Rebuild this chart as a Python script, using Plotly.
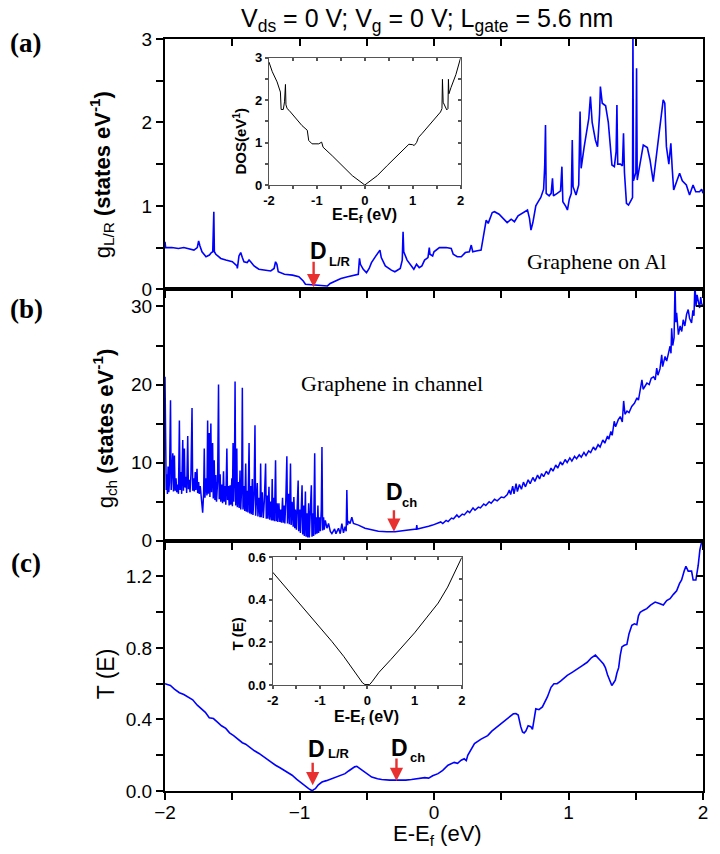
import plotly.graph_objects as go

# ---------------- data ----------------
# panel (a): g_L/R(E)
panel_a_points = [
    (-2.000, 0.57), (-1.995, 0.50), (-1.950, 0.50), (-1.900, 0.49), (-1.860, 0.50), (-1.818, 0.48),
    (-1.785, 0.47), (-1.760, 0.50), (-1.750, 0.58), (-1.740, 0.52), (-1.725, 0.45), (-1.695, 0.39),
    (-1.670, 0.41), (-1.655, 0.44), (-1.645, 0.45), (-1.637, 0.93), (-1.633, 0.45), (-1.622, 0.42),
    (-1.585, 0.37), (-1.548, 0.35), (-1.499, 0.33), (-1.465, 0.28), (-1.462, 0.25), (-1.450, 0.40),
    (-1.437, 0.44), (-1.425, 0.38), (-1.413, 0.33), (-1.389, 0.32), (-1.375, 0.35), (-1.363, 0.33),
    (-1.338, 0.28), (-1.302, 0.24), (-1.254, 0.23), (-1.214, 0.22), (-1.189, 0.25), (-1.178, 0.33),
    (-1.168, 0.30), (-1.158, 0.21), (-1.112, 0.18), (-1.052, 0.17), (-1.005, 0.15), (-0.972, 0.10),
    (-0.956, 0.06), (-0.892, 0.05), (-0.842, 0.04), (-0.792, 0.04), (-0.772, 0.07), (-0.735, 0.10),
    (-0.692, 0.13), (-0.642, 0.15), (-0.592, 0.17), (-0.563, 0.18), (-0.554, 0.37), (-0.547, 0.30),
    (-0.526, 0.24), (-0.502, 0.20), (-0.482, 0.25), (-0.465, 0.32), (-0.432, 0.40), (-0.402, 0.47),
    (-0.392, 0.38), (-0.362, 0.28), (-0.317, 0.23), (-0.291, 0.21), (-0.251, 0.25), (-0.236, 0.35),
    (-0.230, 0.69), (-0.225, 0.45), (-0.200, 0.35), (-0.168, 0.27), (-0.150, 0.24), (-0.130, 0.30),
    (-0.110, 0.26), (-0.090, 0.28), (-0.070, 0.35), (-0.045, 0.38), (-0.035, 0.50), (-0.030, 0.42),
    (-0.010, 0.40), (0.000, 0.45), (0.040, 0.50), (0.055, 0.50), (0.090, 0.50), (0.128, 0.49),
    (0.143, 0.42), (0.173, 0.39), (0.203, 0.39), (0.233, 0.44), (0.263, 0.45), (0.277, 0.53),
    (0.288, 0.45), (0.313, 0.46), (0.350, 0.47), (0.388, 0.83), (0.403, 0.79), (0.433, 0.92),
    (0.450, 0.93), (0.484, 0.90), (0.514, 0.85), (0.544, 0.80), (0.574, 0.84), (0.598, 0.81),
    (0.625, 0.88), (0.671, 0.93), (0.695, 0.95), (0.710, 0.85), (0.721, 0.71), (0.735, 0.80),
    (0.757, 1.00), (0.775, 1.05), (0.794, 1.10), (0.815, 1.20), (0.823, 1.47), (0.829, 1.97),
    (0.834, 1.15), (0.856, 1.12), (0.871, 1.15), (0.881, 1.33), (0.888, 1.12), (0.916, 1.15),
    (0.941, 1.18), (0.951, 1.47), (0.958, 1.05), (0.981, 0.99), (0.992, 0.95), (1.006, 1.08),
    (1.021, 1.15), (1.028, 1.79), (1.034, 1.23), (1.056, 1.13), (1.076, 1.25), (1.086, 2.13),
    (1.094, 1.45), (1.116, 1.70), (1.139, 1.91), (1.151, 2.05), (1.163, 2.31), (1.176, 2.00),
    (1.200, 1.79), (1.216, 1.71), (1.231, 2.10), (1.237, 2.43), (1.251, 2.23), (1.276, 2.20),
    (1.296, 2.00), (1.316, 1.62), (1.323, 1.49), (1.341, 1.47), (1.354, 1.65), (1.360, 2.21),
    (1.366, 1.50), (1.386, 1.50), (1.401, 1.48), (1.409, 1.87), (1.416, 1.40), (1.431, 1.03),
    (1.446, 1.01), (1.466, 1.07), (1.476, 1.10), (1.479, 3.10), (1.483, 1.30), (1.501, 1.40),
    (1.506, 2.65), (1.511, 1.31), (1.536, 1.55), (1.556, 1.73), (1.586, 1.70), (1.606, 1.55),
    (1.630, 1.29), (1.646, 1.50), (1.679, 1.91), (1.691, 2.10), (1.704, 2.27), (1.716, 2.23),
    (1.728, 1.71), (1.746, 1.50), (1.761, 1.75), (1.771, 1.45), (1.782, 1.19), (1.806, 1.30),
    (1.826, 1.39), (1.846, 1.30), (1.876, 1.25), (1.900, 1.13), (1.926, 1.25), (1.946, 1.17),
    (1.974, 1.17), (1.990, 1.20), (2.000, 1.15),
]

# panel (b): g_ch(E)
panel_b_points = [
    (-2.000, 21.0), (-1.994, 9.0), (-1.991, 6.5), (-1.987, 8.5), (-1.982, 6.0), (-1.977, 9.5),
    (-1.972, 6.2), (-1.967, 7.5), (-1.959, 18.0), (-1.954, 6.5), (-1.950, 8.0), (-1.942, 11.2),
    (-1.937, 6.3), (-1.930, 10.9), (-1.925, 6.4), (-1.918, 8.0), (-1.913, 6.2), (-1.905, 7.2),
    (-1.900, 6.0), (-1.893, 15.4), (-1.888, 6.5), (-1.881, 8.8), (-1.876, 6.0), (-1.868, 12.9),
    (-1.863, 6.4), (-1.856, 11.8), (-1.851, 6.8), (-1.844, 8.2), (-1.839, 6.1), (-1.831, 13.4),
    (-1.826, 6.6), (-1.819, 7.8), (-1.814, 6.2), (-1.807, 8.5), (-1.799, 17.0), (-1.794, 6.4),
    (-1.787, 8.0), (-1.782, 6.3), (-1.775, 8.8), (-1.770, 6.5), (-1.762, 9.2), (-1.757, 6.1),
    (-1.750, 7.5), (-1.745, 6.0), (-1.738, 7.0), (-1.730, 5.6), (-1.720, 3.6), (-1.713, 6.0),
    (-1.708, 11.8), (-1.703, 5.5), (-1.696, 8.0), (-1.688, 5.8), (-1.683, 15.4), (-1.678, 6.0),
    (-1.671, 13.8), (-1.666, 5.6), (-1.659, 15.0), (-1.654, 6.2), (-1.646, 12.5), (-1.641, 5.4),
    (-1.634, 10.3), (-1.629, 5.2), (-1.622, 8.4), (-1.617, 5.0), (-1.609, 7.5), (-1.602, 20.0),
    (-1.597, 5.3), (-1.590, 8.5), (-1.585, 5.0), (-1.577, 7.2), (-1.572, 4.8), (-1.565, 8.9),
    (-1.560, 5.0), (-1.553, 7.0), (-1.548, 4.6), (-1.540, 11.8), (-1.535, 5.2), (-1.528, 7.0),
    (-1.523, 4.5), (-1.516, 7.1), (-1.511, 4.6), (-1.503, 8.0), (-1.499, 4.4), (-1.494, 12.5),
    (-1.489, 5.0), (-1.484, 8.0), (-1.479, 20.4), (-1.474, 4.5), (-1.466, 11.8), (-1.462, 4.3),
    (-1.454, 7.5), (-1.449, 4.2), (-1.442, 9.0), (-1.437, 4.0), (-1.430, 6.8), (-1.425, 19.6),
    (-1.420, 4.0), (-1.412, 7.0), (-1.407, 3.8), (-1.400, 9.9), (-1.395, 3.7), (-1.388, 6.4),
    (-1.383, 3.6), (-1.375, 12.5), (-1.370, 3.5), (-1.363, 7.0), (-1.358, 3.4), (-1.351, 7.9),
    (-1.346, 3.3), (-1.338, 6.0), (-1.331, 14.8), (-1.326, 3.2), (-1.319, 6.5), (-1.314, 7.4),
    (-1.309, 3.1), (-1.301, 5.5), (-1.294, 3.0), (-1.289, 9.9), (-1.284, 3.0), (-1.277, 6.2),
    (-1.269, 2.9), (-1.262, 5.0), (-1.252, 9.9), (-1.247, 2.8), (-1.240, 5.8), (-1.235, 2.8),
    (-1.227, 6.9), (-1.222, 2.7), (-1.215, 5.0), (-1.208, 2.6), (-1.203, 7.9), (-1.198, 2.6),
    (-1.190, 5.5), (-1.186, 2.5), (-1.178, 10.3), (-1.173, 2.5), (-1.166, 4.8), (-1.161, 2.4),
    (-1.153, 4.8), (-1.146, 2.4), (-1.139, 4.0), (-1.134, 2.3), (-1.126, 5.5), (-1.121, 2.3),
    (-1.114, 4.5), (-1.109, 2.2), (-1.102, 5.0), (-1.094, 10.8), (-1.089, 2.2), (-1.082, 6.0),
    (-1.075, 2.1), (-1.067, 9.9), (-1.062, 2.0), (-1.055, 5.0), (-1.047, 1.8), (-1.042, 5.6),
    (-1.035, 1.6), (-1.030, 4.0), (-1.023, 1.4), (-1.018, 5.5), (-1.010, 7.7), (-1.006, 1.2),
    (-0.998, 4.0), (-0.993, 1.0), (-0.986, 5.5), (-0.981, 7.1), (-0.976, 0.8), (-0.969, 4.5),
    (-0.964, 0.6), (-0.956, 6.3), (-0.951, 0.5), (-0.944, 3.5), (-0.939, 0.4), (-0.932, 4.8),
    (-0.927, 0.4), (-0.919, 3.0), (-0.912, 7.1), (-0.907, 0.5), (-0.900, 3.5), (-0.895, 0.6),
    (-0.887, 11.2), (-0.882, 0.8), (-0.875, 3.0), (-0.870, 0.9), (-0.863, 4.5), (-0.858, 1.0),
    (-0.850, 3.0), (-0.845, 1.2), (-0.838, 4.0), (-0.833, 12.0), (-0.828, 1.3), (-0.821, 3.0),
    (-0.816, 1.4), (-0.808, 2.6), (-0.796, 1.6), (-0.784, 2.2), (-0.771, 1.2), (-0.759, 0.9),
    (-0.739, 1.5), (-0.729, 0.9), (-0.710, 1.6), (-0.697, 0.9), (-0.685, 2.2), (-0.673, 1.0),
    (-0.661, 1.8), (-0.653, 1.2), (-0.648, 6.5), (-0.643, 2.0), (-0.636, 2.5), (-0.624, 2.2),
    (-0.611, 3.0), (-0.599, 2.2), (-0.562, 2.0), (-0.513, 1.6), (-0.463, 1.35), (-0.414, 1.2),
    (-0.350, 1.15), (-0.290, 1.15), (-0.220, 1.3), (-0.160, 1.45), (-0.132, 1.5), (-0.128, 2.0),
    (-0.124, 1.5), (-0.100, 1.6), (-0.070, 1.7), (-0.040, 1.85), (-0.010, 2.0), (0.030, 2.2),
    (0.050, 2.4), (0.065, 2.2), (0.090, 2.6), (0.105, 2.45), (0.130, 2.9), (0.145, 2.8),
    (0.170, 3.3), (0.185, 3.0), (0.210, 3.4), (0.225, 3.3), (0.250, 3.8), (0.265, 3.6),
    (0.290, 4.2), (0.305, 3.9), (0.330, 4.3), (0.345, 4.2), (0.370, 4.7), (0.385, 4.5),
    (0.410, 5.0), (0.425, 4.8), (0.450, 5.3), (0.470, 5.1), (0.500, 5.6), (0.520, 5.5),
    (0.545, 5.9), (0.560, 6.5), (0.570, 5.9), (0.585, 7.0), (0.595, 6.0), (0.610, 7.3),
    (0.620, 6.3), (0.635, 7.2), (0.650, 6.6), (0.665, 7.5), (0.680, 6.9), (0.700, 7.8),
    (0.715, 7.3), (0.735, 8.1), (0.750, 7.6), (0.770, 8.4), (0.785, 7.9), (0.800, 8.6),
    (0.815, 8.2), (0.835, 8.9), (0.850, 8.5), (0.870, 9.3), (0.885, 8.9), (0.905, 9.7),
    (0.920, 9.3), (0.940, 10.1), (0.955, 9.7), (0.975, 10.4), (0.990, 10.0), (1.010, 10.6),
    (1.025, 10.2), (1.045, 10.8), (1.060, 10.5), (1.080, 11.0), (1.095, 10.7), (1.115, 11.3),
    (1.130, 10.9), (1.150, 11.5), (1.165, 11.3), (1.185, 12.0), (1.200, 11.6), (1.220, 12.3),
    (1.235, 12.0), (1.255, 12.9), (1.270, 12.5), (1.290, 13.4), (1.300, 13.0), (1.315, 14.0),
    (1.325, 13.5), (1.340, 15.3), (1.350, 14.6), (1.370, 15.5), (1.385, 15.9), (1.400, 15.2),
    (1.410, 17.9), (1.420, 16.2), (1.435, 16.6), (1.450, 16.4), (1.470, 17.2), (1.490, 17.6),
    (1.509, 18.3), (1.520, 18.0), (1.533, 19.3), (1.546, 20.6), (1.555, 19.4), (1.570, 19.8),
    (1.583, 20.2), (1.600, 20.0), (1.615, 20.8), (1.633, 21.0), (1.645, 20.6), (1.656, 22.1),
    (1.665, 21.2), (1.680, 22.0), (1.693, 23.8), (1.700, 22.3), (1.718, 23.6), (1.730, 23.0),
    (1.745, 24.0), (1.755, 24.9), (1.762, 24.0), (1.767, 27.2), (1.775, 25.0), (1.785, 26.0),
    (1.792, 33.0), (1.798, 28.0), (1.804, 29.2), (1.811, 27.0), (1.817, 26.4), (1.830, 27.5),
    (1.842, 26.8), (1.853, 28.3), (1.865, 27.5), (1.878, 29.0), (1.890, 29.6), (1.900, 28.5),
    (1.915, 27.9), (1.925, 29.5), (1.933, 28.8), (1.940, 33.0), (1.948, 30.0), (1.956, 31.5),
    (1.964, 30.9), (1.975, 29.8), (1.983, 31.2), (1.989, 30.4), (2.000, 30.0),
]

# panel (c): T(E)
panel_c_points = [
    (-2.000, 0.600), (-1.960, 0.590), (-1.930, 0.570), (-1.893, 0.550), (-1.860, 0.540),
    (-1.830, 0.525), (-1.794, 0.510), (-1.760, 0.480), (-1.730, 0.462), (-1.700, 0.440),
    (-1.671, 0.410), (-1.640, 0.405), (-1.610, 0.385), (-1.580, 0.365), (-1.548, 0.350),
    (-1.520, 0.325), (-1.490, 0.310), (-1.455, 0.290), (-1.425, 0.270), (-1.400, 0.262),
    (-1.365, 0.240), (-1.335, 0.225), (-1.301, 0.210), (-1.270, 0.192), (-1.240, 0.178),
    (-1.210, 0.160), (-1.178, 0.144), (-1.145, 0.130), (-1.115, 0.115), (-1.085, 0.100),
    (-1.055, 0.088), (-1.020, 0.065), (-0.981, 0.041), (-0.955, 0.025), (-0.932, 0.013),
    (-0.915, 0.006), (-0.905, 0.002), (-0.895, 0.008), (-0.882, 0.013), (-0.860, 0.035),
    (-0.833, 0.050), (-0.800, 0.058), (-0.759, 0.069), (-0.720, 0.080), (-0.690, 0.090),
    (-0.661, 0.097), (-0.635, 0.112), (-0.611, 0.125), (-0.590, 0.135), (-0.574, 0.138),
    (-0.555, 0.128), (-0.537, 0.116), (-0.500, 0.095), (-0.463, 0.078), (-0.420, 0.068),
    (-0.389, 0.064), (-0.330, 0.061), (-0.266, 0.060), (-0.210, 0.061), (-0.167, 0.064),
    (-0.120, 0.068), (-0.069, 0.075), (-0.040, 0.072), (-0.010, 0.085), (0.030, 0.097),
    (0.065, 0.115), (0.104, 0.144), (0.150, 0.160), (0.175, 0.155), (0.202, 0.172),
    (0.225, 0.180), (0.240, 0.170), (0.251, 0.200), (0.275, 0.230), (0.301, 0.265),
    (0.350, 0.290), (0.399, 0.310), (0.430, 0.335), (0.473, 0.360), (0.510, 0.385),
    (0.547, 0.405), (0.590, 0.432), (0.609, 0.433), (0.626, 0.425), (0.645, 0.360),
    (0.658, 0.330), (0.670, 0.325), (0.683, 0.335), (0.700, 0.365), (0.720, 0.360),
    (0.732, 0.345), (0.745, 0.420), (0.757, 0.460), (0.780, 0.455), (0.806, 0.470),
    (0.843, 0.526), (0.870, 0.580), (0.892, 0.600), (0.915, 0.600), (0.941, 0.615),
    (0.965, 0.630), (0.991, 0.647), (1.030, 0.665), (1.065, 0.685), (1.100, 0.700),
    (1.139, 0.720), (1.170, 0.745), (1.200, 0.760), (1.215, 0.745), (1.237, 0.730),
    (1.260, 0.710), (1.274, 0.690), (1.290, 0.650), (1.306, 0.620), (1.322, 0.590),
    (1.331, 0.600), (1.348, 0.620), (1.360, 0.660), (1.373, 0.690), (1.385, 0.760),
    (1.397, 0.806), (1.415, 0.815), (1.434, 0.820), (1.450, 0.880), (1.471, 0.927),
    (1.490, 0.935), (1.508, 0.930), (1.520, 0.980), (1.533, 1.000), (1.555, 1.010),
    (1.582, 1.020), (1.610, 1.040), (1.644, 1.057), (1.670, 1.050), (1.705, 1.040),
    (1.730, 1.065), (1.755, 1.076), (1.780, 1.100), (1.804, 1.120), (1.825, 1.160),
    (1.841, 1.180), (1.860, 1.230), (1.873, 1.257), (1.890, 1.230), (1.915, 1.230),
    (1.927, 1.180), (1.947, 1.180), (1.964, 1.260), (1.977, 1.350), (1.992, 1.400),
    (2.000, 1.420),
]

# inset of (a): DOS of pristine graphene
inset_a_points = [
    (-2.0, 2.90), (-1.93, 2.67), (-1.83, 2.43), (-1.76, 2.19), (-1.745, 1.78), (-1.70, 1.78),
    (-1.675, 1.96), (-1.655, 2.37), (-1.645, 1.89), (-1.62, 1.80), (-1.58, 1.76), (-1.44, 1.56),
    (-1.31, 1.40), (-1.20, 1.29), (-1.17, 1.05), (-1.10, 0.97), (-0.96, 0.97), (-0.90, 1.01),
    (-0.87, 0.89), (-0.68, 0.69), (-0.47, 0.46), (-0.26, 0.22), (0.0, 0.0), (0.26, 0.22),
    (0.47, 0.46), (0.68, 0.69), (0.87, 0.89), (0.92, 0.96), (1.0, 0.95), (1.03, 0.93),
    (1.08, 1.0), (1.12, 1.12), (1.2, 1.22), (1.35, 1.42), (1.5, 1.6), (1.58, 1.72),
    (1.61, 1.80), (1.62, 2.49), (1.635, 1.95), (1.68, 1.85), (1.71, 1.77), (1.735, 1.80),
    (1.745, 2.49), (1.755, 2.15), (1.8, 2.3), (1.9, 2.6), (2.0, 3.0),
]

# inset of (c): T(E) of pristine graphene
inset_c_points = [
    (-2.0, 0.53), (-1.75, 0.465), (-1.5, 0.40), (-1.25, 0.34), (-1.0, 0.275), (-0.75, 0.205),
    (-0.5, 0.135), (-0.3, 0.075), (-0.15, 0.03), (-0.1, 0.01), (-0.05, 0.002), (0.05, 0.002),
    (0.1, 0.015), (0.25, 0.06), (0.5, 0.12), (0.75, 0.18), (1.0, 0.245), (1.25, 0.315),
    (1.5, 0.385), (1.7, 0.46), (1.85, 0.53), (2.0, 0.6),
]

x_ticks = [-2, -1, 0, 1, 2]
x_minor = [-1.5, -0.5, 0.5, 1.5]
ya_ticks, ya_minor = [0, 1, 2, 3], [0.5, 1.5, 2.5]
yb_ticks, yb_minor = [0, 10, 20, 30], [5, 15, 25]
yc_ticks, yc_minor = [0, 0.4, 0.8, 1.2], [0.2, 0.6, 1.0]
yc_text = ["0.0", "0.4", "0.8", "1.2"]
ins_a_y = [0, 1, 2, 3]
ins_c_y = [0, 0.2, 0.4, 0.6]
ins_c_ytext = ["0.0", "0.2", "0.4", "0.6"]

# ---------------- layout geometry ----------------
# the page body adds an 8 px margin, so the figure is 8 px smaller than the window
PAGE_OFF = 8
W, H = 720 - PAGE_OFF, 854 - PAGE_OFF
PLOT_L, PLOT_R, PLOT_T, PLOT_B = 165, 706, 39, 791   # in window pixels
ML, MT = PLOT_L - PAGE_OFF, PLOT_T - PAGE_OFF
MR, MB = 720 - PLOT_R, 854 - PLOT_B
PW, PH = PLOT_R - PLOT_L, PLOT_B - PLOT_T


def px(x):
    return (x - PLOT_L) / PW


def py(y):
    return (PLOT_B - y) / PH


dom_c = [0, py(540.7)]
dom_b = [py(540.7), py(289.3)]
dom_a = [py(289.3), 1]
ins_a_dom_x = [px(269.5), px(462.3)]
ins_a_dom_y = [py(185), py(57.7)]
ins_c_dom_x = [px(273.3), px(463.5)]
ins_c_dom_y = [py(685), py(557.3)]

SANS = "Liberation Sans"
SERIF = "Liberation Serif"
BLUE = "#0000ff"
RED = "#e83030"
tickfont = dict(family=SANS, size=19, color="black")
insfont = dict(family=SANS, size=13, color="black")


def axis(domain, anchor, rng, tickvals, minor, ticktext=None, labels=True, ticks="outside",
         side=None, overlaying=None, lw=2, col="black", tl=7, font=tickfont, standoff=None):
    d = dict(range=rng, anchor=anchor, showline=True, linewidth=lw, linecolor=col,
             ticks=ticks, ticklen=tl, tickwidth=1.5, tickcolor=col, tickmode="array",
             tickvals=tickvals, showticklabels=labels, tickfont=font,
             showgrid=False, zeroline=False, fixedrange=True,
             minor=dict(tickmode="array", tickvals=minor, ticks=ticks, ticklen=tl,
                        tickwidth=1.5, tickcolor=col, showgrid=False))
    if ticktext is not None:
        d["ticktext"] = ticktext
    if domain is not None:
        d["domain"] = domain
    if side is not None:
        d["side"] = side
    if overlaying is not None:
        d["overlaying"] = overlaying
    if standoff is not None:
        d["ticklabelstandoff"] = standoff
    return d


fig = go.Figure()


def add_line(points, xa, ya, color, width):
    xs = [p[0] for p in points]
    ys = [p[1] for p in points]
    fig.add_trace(go.Scatter(x=xs, y=ys, mode="lines", xaxis=xa, yaxis=ya,
                             line=dict(color=color, width=width), showlegend=False,
                             hoverinfo="skip"))


add_line(panel_c_points, "x", "y", BLUE, 1.6)
add_line(panel_b_points, "x2", "y2", BLUE, 1.5)
add_line(panel_a_points, "x3", "y3", BLUE, 1.6)
add_line(inset_a_points, "x7", "y7", "black", 1)
add_line(inset_c_points, "x8", "y8", "black", 1)
for xa, ya in [("x4", "y4"), ("x5", "y5"), ("x6", "y6"), ("x9", "y9"), ("x10", "y10")]:
    fig.add_trace(go.Scatter(x=[None], y=[None], xaxis=xa, yaxis=ya, showlegend=False,
                             hoverinfo="skip"))

XR = [-2, 2]
bold = lambda vals: ["<b>%s</b>" % v for v in vals]
GREY = "#555555"
lay = dict(
    # panel c
    xaxis=axis([0, 1], "y", XR, x_ticks, x_minor, standoff=-4),
    yaxis=axis(dom_c, "x", [0, 1.4], yc_ticks, yc_minor, ticktext=yc_text),
    # panel b
    xaxis2=axis([0, 1], "y2", XR, x_ticks, x_minor, labels=False),
    yaxis2=axis(dom_b, "x2", [0, 32.2], yb_ticks, yb_minor),
    # panel a
    xaxis3=axis([0, 1], "y3", XR, x_ticks, x_minor, labels=False),
    yaxis3=axis(dom_a, "x3", [0, 3], ya_ticks, ya_minor),
    # mirrored (top / right) axes with inward ticks
    xaxis4=axis(None, "y4", XR, x_ticks, x_minor, labels=False, ticks="inside", side="top", overlaying="x"),
    yaxis4=axis(None, "x4", [0, 1.4], yc_ticks, yc_minor, labels=False, ticks="inside", side="right", overlaying="y"),
    xaxis5=axis(None, "y5", XR, x_ticks, x_minor, labels=False, ticks="inside", side="top", overlaying="x2"),
    yaxis5=axis(None, "x5", [0, 32.2], yb_ticks, yb_minor, labels=False, ticks="inside", side="right", overlaying="y2"),
    xaxis6=axis(None, "y6", XR, x_ticks, x_minor, labels=False, ticks="inside", side="top", overlaying="x3"),
    yaxis6=axis(None, "x6", [0, 3], ya_ticks, ya_minor, labels=False, ticks="inside", side="right", overlaying="y3"),
    # insets
    xaxis7=axis(ins_a_dom_x, "y7", XR, x_ticks, x_minor, ticktext=bold(x_ticks), lw=1.2, col=GREY, tl=3, font=insfont),
    yaxis7=axis(ins_a_dom_y, "x7", [0, 3], ins_a_y, [0.5, 1.5, 2.5], ticktext=bold(ins_a_y), lw=1.2, col=GREY, tl=3, font=insfont),
    xaxis8=axis(ins_c_dom_x, "y8", XR, x_ticks, x_minor, ticktext=bold(x_ticks), lw=1.2, col=GREY, tl=3, font=insfont),
    yaxis8=axis(ins_c_dom_y, "x8", [0, 0.6], ins_c_y, [0.1, 0.3, 0.5], ticktext=bold(ins_c_ytext), lw=1.2, col=GREY, tl=3, font=insfont),
    xaxis9=axis(None, "y9", XR, x_ticks, x_minor, labels=False, ticks="inside", side="top", overlaying="x7", lw=1.2, col=GREY, tl=3),
    yaxis9=axis(None, "x9", [0, 3], ins_a_y, [0.5, 1.5, 2.5], labels=False, ticks="inside", side="right", overlaying="y7", lw=1.2, col=GREY, tl=3),
    xaxis10=axis(None, "y10", XR, x_ticks, x_minor, labels=False, ticks="inside", side="top", overlaying="x8", lw=1.2, col=GREY, tl=3),
    yaxis10=axis(None, "x10", [0, 0.6], ins_c_y, [0.1, 0.3, 0.5], labels=False, ticks="inside", side="right", overlaying="y8", lw=1.2, col=GREY, tl=3),
)
fig.update_layout(**lay)

ann = []


def text(x, y, s, size, family=SANS, angle=0, xanchor="center", yanchor="middle", color="black"):
    ann.append(dict(x=px(x), y=py(y), xref="paper", yref="paper", text=s, showarrow=False,
                    textangle=angle, xanchor=xanchor, yanchor=yanchor,
                    font=dict(family=family, size=size, color=color)))


# title and panel letters
text(428, 20, "V<sub>ds</sub> = 0 V; V<sub>g</sub> = 0 V; L<sub>gate</sub> = 5.6 nm", 25)
text(25, 43, "<b>(a)</b>", 27, family=SERIF)
text(26, 309, "<b>(b)</b>", 27, family=SERIF)
text(25, 563, "<b>(c)</b>", 27, family=SERIF)
# axis titles
text(101, 175, "g<sub>L/R</sub> <b>(states eV<sup>-1</sup>)</b>", 22, angle=-90)
text(104, 428, "g<sub>ch</sub> <b>(states eV<sup>-1</sup>)</b>", 22, angle=-90)
text(106, 674, "T (E)", 23, angle=-90)
text(439, 835, "E-E<sub>f</sub> (eV)", 22)
# inset titles
text(240, 141, "<b>DOS(eV<sup>1</sup>)</b>", 15, angle=-90)
text(366, 215, "<b>E-E<sub>f</sub> (eV)</b>", 16)
text(237, 634, "<b>T (E)</b>", 15, angle=-90)
text(368, 717, "<b>E-E<sub>f</sub> (eV)</b>", 16)
# labels inside panels
text(599, 261, "Graphene on Al", 22, family=SERIF)
text(393, 383, "Graphene in channel", 22, family=SERIF)
# Dirac-point labels
text(309, 251, "<b>D</b>", 23, xanchor="left")
text(328, 261, "<b>L/R</b>", 13, xanchor="left")
text(385, 492, "<b>D</b>", 23, xanchor="left")
text(401, 502, "<b>ch</b>", 13, xanchor="left")
text(306.5, 749, "<b>D</b>", 23, xanchor="left")
text(326.5, 753, "<b>L/R</b>", 13, xanchor="left")
text(390.5, 748, "<b>D</b>", 23, xanchor="left")
text(409, 757, "<b>ch</b>", 13, xanchor="left")

# red arrows pointing at the Dirac points (E position, tip value, length in px)
arrows = [("x3", "y3", -0.895, 0.024, 27), ("x2", "y2", -0.298, 1.15, 23),
          ("x", "y", -0.902, 0.032, 24), ("x", "y", -0.279, 0.056, 24)]
for xa, ya, xv, yv, ln in arrows:
    ann.append(dict(x=xv, y=yv, xref=xa, yref=ya, ax=0, ay=-ln, text="", showarrow=True,
                    arrowhead=2, arrowsize=1.1, arrowwidth=2.4, arrowcolor=RED, standoff=0))

fig.update_layout(
    annotations=ann,
    width=W, height=H,
    margin=dict(l=ML, r=MR, t=MT, b=MB, pad=0),
    paper_bgcolor="white", plot_bgcolor="white",
    showlegend=False,
    font=dict(family=SANS, color="black"),
)

fig.write_html("out.html")
